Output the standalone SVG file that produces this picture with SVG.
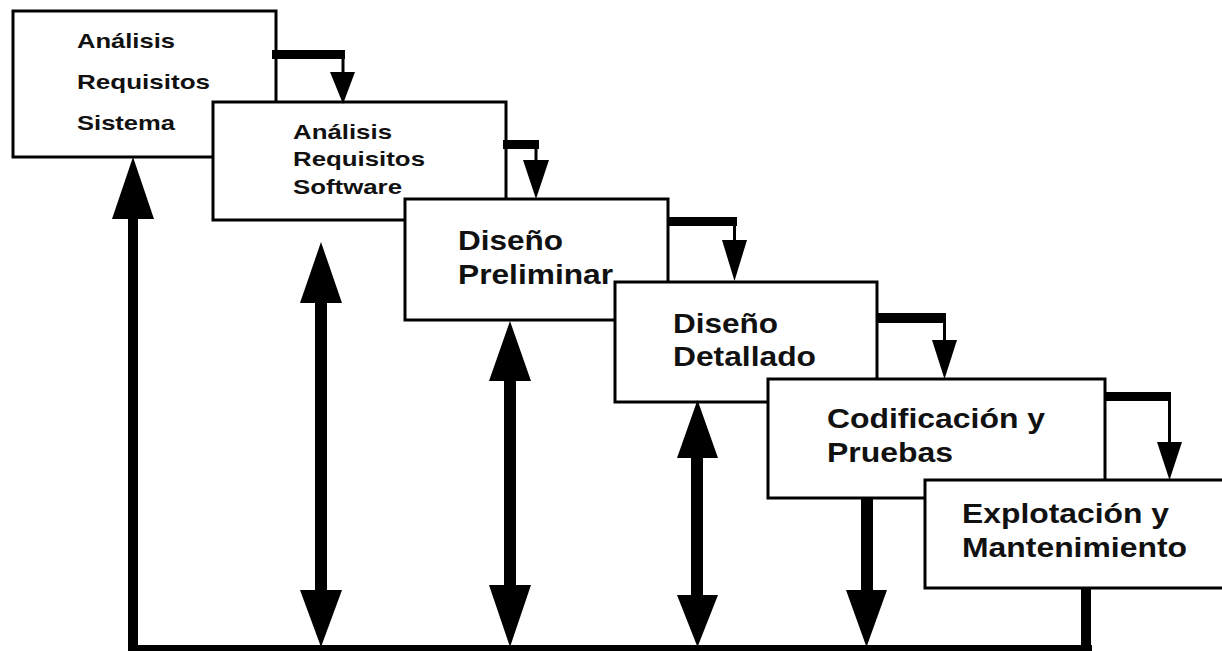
<svg xmlns="http://www.w3.org/2000/svg" width="1222" height="651" viewBox="0 0 1222 651">
  <style>
    .box { fill: #fff; stroke: #000; stroke-width: 3; }
    .lbl { font-family: "Liberation Sans", Arial, Helvetica, sans-serif; font-weight: bold; fill: #111; }
    .sm { font-size: 21px; }
    .lg { font-size: 28px; }
    .bar { fill: #000; }
    .thin { stroke: #000; stroke-width: 3; fill: none; }
    .head { fill: #000; }
  </style>
  <rect width="1222" height="651" fill="#fff"/>

  <!-- phase boxes, each drawn over the previous one -->
  <g id="analisis-sistema">
    <rect class="box" x="13" y="11" width="263" height="146"/>
    <text class="lbl sm" x="77" y="48" textLength="98" lengthAdjust="spacingAndGlyphs">Análisis</text>
    <text class="lbl sm" x="77" y="89" textLength="133" lengthAdjust="spacingAndGlyphs">Requisitos</text>
    <text class="lbl sm" x="77" y="130" textLength="98" lengthAdjust="spacingAndGlyphs">Sistema</text>
  </g>
  <g id="analisis-software">
    <rect class="box" x="213" y="102" width="293" height="118"/>
    <text class="lbl sm" x="293" y="139" textLength="99" lengthAdjust="spacingAndGlyphs">Análisis</text>
    <text class="lbl sm" x="293" y="166" textLength="132" lengthAdjust="spacingAndGlyphs">Requisitos</text>
    <text class="lbl sm" x="293" y="194" textLength="109" lengthAdjust="spacingAndGlyphs">Software</text>
  </g>
  <g id="diseno-preliminar">
    <rect class="box" x="405" y="199" width="263" height="121"/>
    <text class="lbl lg" x="458" y="250" textLength="105" lengthAdjust="spacingAndGlyphs">Diseño</text>
    <text class="lbl lg" x="458" y="284" textLength="155" lengthAdjust="spacingAndGlyphs">Preliminar</text>
  </g>
  <g id="diseno-detallado">
    <rect class="box" x="615" y="282" width="262" height="120"/>
    <text class="lbl lg" x="673" y="333" textLength="105" lengthAdjust="spacingAndGlyphs">Diseño</text>
    <text class="lbl lg" x="673" y="366" textLength="143" lengthAdjust="spacingAndGlyphs">Detallado</text>
  </g>
  <g id="codificacion-pruebas">
    <rect class="box" x="768" y="379" width="337" height="119"/>
    <text class="lbl lg" x="827" y="428" textLength="218" lengthAdjust="spacingAndGlyphs">Codificación y</text>
    <text class="lbl lg" x="827" y="462" textLength="126" lengthAdjust="spacingAndGlyphs">Pruebas</text>
  </g>
  <g id="explotacion-mantenimiento">
    <rect class="box" x="925" y="480" width="320" height="108"/>
    <text class="lbl lg" x="962" y="523" textLength="207" lengthAdjust="spacingAndGlyphs">Explotación y</text>
    <text class="lbl lg" x="962" y="557" textLength="225" lengthAdjust="spacingAndGlyphs">Mantenimiento</text>
  </g>

  <g id="connectors">
    <!-- forward hand-offs between consecutive phases -->
    <rect class="bar" x="272" y="50" width="73" height="9"/>
    <line class="thin" x1="343" y1="54" x2="343" y2="74"/>
    <polygon class="head" points="330,72 355,72 343,104"/>

    <rect class="bar" x="503" y="140" width="36" height="9"/>
    <line class="thin" x1="536" y1="145" x2="536" y2="162"/>
    <polygon class="head" points="523,160 549,160 536,199"/>

    <rect class="bar" x="668" y="217" width="69" height="9"/>
    <line class="thin" x1="734.5" y1="221" x2="734.5" y2="242"/>
    <polygon class="head" points="722,240 747,240 734.5,281"/>

    <rect class="bar" x="877" y="313" width="69" height="10"/>
    <line class="thin" x1="944.5" y1="318" x2="944.5" y2="342"/>
    <polygon class="head" points="932,340 957,340 944.5,379"/>

    <rect class="bar" x="1105" y="392" width="66" height="9"/>
    <line class="thin" x1="1169.5" y1="396" x2="1169.5" y2="444"/>
    <polygon class="head" points="1157,442 1182,442 1169.5,480"/>

    <!-- feedback loop along the bottom -->
    <rect class="bar" x="128" y="645" width="964" height="10"/>
    <rect class="bar" x="128" y="217" width="10" height="434"/>
    <polygon class="head" points="112,219 154,219 133,157"/>

    <!-- two-way links -->
    <rect class="bar" x="315" y="300" width="12" height="292"/>
    <polygon class="head" points="300,303 342,303 321,242"/>
    <polygon class="head" points="300,590 342,590 321,647"/>

    <rect class="bar" x="504" y="378" width="12" height="210"/>
    <polygon class="head" points="489,381 531,381 510,321"/>
    <polygon class="head" points="489,585 531,585 510,647"/>

    <rect class="bar" x="691" y="455" width="12" height="142"/>
    <polygon class="head" points="677,458 718,458 697.5,400"/>
    <polygon class="head" points="677,595 718,595 697.5,647"/>

    <!-- outputs into the loop -->
    <rect class="bar" x="861" y="498" width="12" height="94"/>
    <polygon class="head" points="846,590 887,590 866.5,647"/>

    <rect class="bar" x="1081" y="588" width="10" height="62"/>
  </g>
</svg>
